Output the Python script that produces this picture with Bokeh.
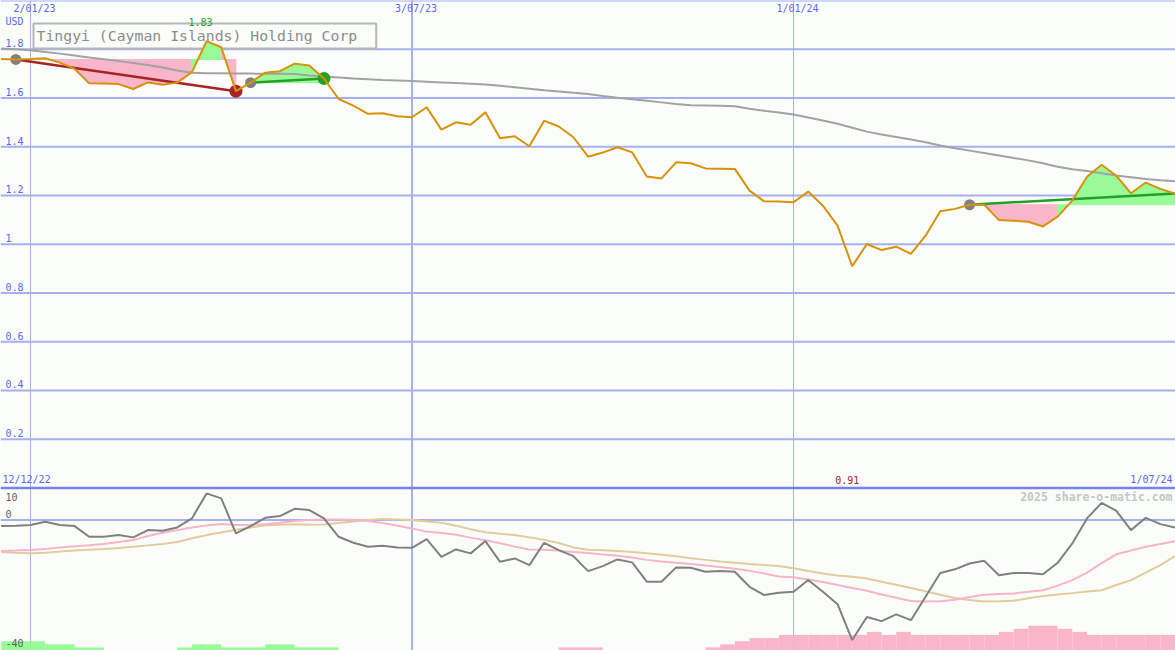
import numpy as np
import pandas as pd
from bokeh.plotting import figure
from bokeh.models import Range1d, Span, Label
from bokeh.embed import file_html
from bokeh.resources import INLINE

# ---------------- data ----------------
title_text = "Tingyi (Cayman Islands) Holding Corp"
currency = "USD"
watermark = "2025 share-o-matic.com"
dates = pd.date_range("2022-12-19", periods=81, freq="7D")

price = [1.760, 1.758, 1.760, 1.763, 1.745, 1.720, 1.660, 1.659, 1.657, 1.637,
         1.664, 1.654, 1.663, 1.706, 1.833, 1.808, 1.628, 1.663, 1.704, 1.710,
         1.741, 1.733, 1.680, 1.596, 1.569, 1.535, 1.537, 1.525, 1.521, 1.562,
         1.470, 1.500, 1.490, 1.541, 1.435, 1.443, 1.402, 1.507, 1.483, 1.439,
         1.359, 1.376, 1.398, 1.377, 1.278, 1.270, 1.336, 1.332, 1.311, 1.310,
         1.309, 1.220, 1.176, 1.175, 1.172, 1.216, 1.158, 1.076, 0.910, 1.001,
         0.976, 0.990, 0.960, 1.035, 1.135, 1.145, 1.162, 1.162, 1.099, 1.096,
         1.092, 1.073, 1.113, 1.179, 1.277, 1.326, 1.281, 1.209, 1.253, 1.227,
         1.208]

price_ma = [1.803, 1.800, 1.796, 1.789, 1.782, 1.774, 1.766, 1.759, 1.752, 1.744,
            1.735, 1.725, 1.713, 1.704, 1.702, 1.701, 1.700, 1.700, 1.699, 1.699,
            1.698, 1.692, 1.688, 1.684, 1.680, 1.677, 1.674, 1.672, 1.670, 1.667,
            1.664, 1.661, 1.658, 1.655, 1.650, 1.644, 1.638, 1.632, 1.627, 1.621,
            1.616, 1.608, 1.601, 1.595, 1.589, 1.582, 1.575, 1.570, 1.569, 1.568,
            1.566, 1.556, 1.548, 1.540, 1.532, 1.520, 1.508, 1.494, 1.478, 1.462,
            1.450, 1.440, 1.430, 1.418, 1.405, 1.394, 1.384, 1.374, 1.364, 1.354,
            1.344, 1.332, 1.318, 1.308, 1.300, 1.291, 1.282, 1.275, 1.268, 1.262,
            1.258]

osc = [-1.84, -1.7, -1.53, -0.52, -1.53, -1.84, -5.12, -5.12, -4.6, -5.3,
       -3.07, -3.28, -2.24, 0.52, 8.19, 6.66, -4.08, -1.84, 0.7, 1.23,
       3.47, 3.07, 0.52, -5.12, -6.96, -8.19, -7.9, -8.4, -8.5, -5.83,
       -11.26, -8.99, -10.2, -6.44, -12.8, -11.75, -13.8, -6.96, -9.2, -11.04,
       -15.64, -14.1, -12.06, -12.97, -18.9, -18.9, -14.5, -14.6, -15.86, -15.64,
       -15.86, -20.46, -23.0, -22.3, -22.0, -18.4, -22.0, -25.8, -36.8, -29.7,
       -31.0, -28.9, -30.7, -23.5, -16.2, -15.1, -13.3, -12.5, -16.9, -16.2,
       -16.2, -16.6, -13.1, -7.15, 0.52, 5.3, 2.85, -3.07, 0.7, -1.23,
       -2.24]

osc_fast = [-9.5, -9.36, -9.2, -8.9, -8.4, -8.0, -7.7, -7.36, -6.75, -6.13,
            -4.9, -3.9, -3.07, -2.3, -1.66, -1.23, -1.47, -1.4, -1.25, -0.8,
            -0.3, 0.03, 0.2, 0.2, 0.1, -0.3, -0.9, -1.75, -2.55, -3.53,
            -3.95, -4.5, -5.37, -6.2, -7.1, -8.13, -9.0, -9.1, -9.36, -9.8,
            -10.1, -10.55, -10.95, -11.5, -12.2, -12.7, -13.1, -13.5, -13.9, -14.4,
            -14.9, -15.5, -16.4, -17.3, -17.5, -18.2, -19.0, -19.9, -20.8, -21.7,
            -22.8, -23.8, -24.8, -25.0, -24.9, -24.4, -23.6, -22.9, -22.7, -22.5,
            -22.0, -21.5, -20.1, -18.4, -16.1, -13.2, -10.5, -9.3, -8.2, -7.3,
            -6.5]

osc_slow = [-9.8, -10.0, -10.15, -10.0, -9.6, -9.3, -9.1, -8.9, -8.55, -8.2,
            -7.75, -7.3, -6.7, -5.55, -4.6, -3.8, -2.95, -2.3, -1.6, -1.4,
            -1.28, -1.44, -1.35, -0.9, -0.43, 0.0, 0.37, 0.2, 0.0, -0.4,
            -0.8, -1.7, -2.8, -3.7, -4.2, -4.6, -5.3, -6.0, -7.0, -8.37,
            -9.08, -9.26, -9.5, -9.8, -10.2, -10.6, -11.1, -11.7, -12.2, -12.7,
            -13.1, -13.5, -13.8, -14.1, -14.75, -15.6, -16.4, -17.0, -17.4, -17.9,
            -18.9, -19.8, -20.8, -21.8, -22.9, -23.9, -24.5, -25.0, -24.9, -24.75,
            -24.0, -23.3, -22.8, -22.4, -21.9, -21.5, -19.9, -18.4, -16.1, -13.8,
            -11.04]

bar_level = [3, 3, 3, 2, 2, 1, 1, 0, 0, 0,
             0, 0, 1, 2, 2, 1, 1, 1, 2, 2,
             1, 1, 1, 0, 0, 0, 0, 0, 0, 0,
             0, 0, 0, 0, 0, 0, 0, 0, -1, -1,
             -1, 0, 0, 0, 0, 0, 0, 0, -1, -2,
             -3, -4, -4, -5, -5, -5, -5, -5, -5, -6,
             -5, -6, -5, -5, -5, -5, -5, -5, -6, -7,
             -8, -8, -7, -6, -5, -5, -5, -5, -5, -5,
             -5]

trend_start = [1, 17, 66]
trend_end = [16, 22, 80]

price_ticks = [1.8, 1.6, 1.4, 1.2, 1.0, 0.8, 0.6, 0.4, 0.2]
osc_ticks = [10, 0, -40]
date_ticks = ["2023-01-02", "2023-07-03", "2024-01-01"]
date_tick_labels = ["2/01/23", "3/07/23", "1/01/24"]
range_start_label = "12/12/22"
range_end_label = "1/07/24"

# ---------------- styles ----------------
BG = "#FBFDFB"
GRID = "#A6B0F0"
SEP = "#7484E8"
TICK_BLUE = "#5868EE"
PRICE_C = "#D8920A"
MA_C = "#A2A2A2"
RED = "#A82424"
GREEN = "#24A024"
DOT_GREY = "#808080"
PINK_FILL = "#F9B6CB"
GREEN_FILL = "#98FB98"
OSC_C = "#808080"
OSC_FAST_C = "#F8B4C8"
OSC_SLOW_C = "#E2CC9C"
MONO = "DejaVu Sans Mono"

W, H = 1175, 650
DAY = 86400000.0
EPOCH = pd.Timestamp("1970-01-01")


def ms(ts):
    return (pd.Timestamp(ts) - EPOCH) / pd.Timedelta(milliseconds=1)


x = np.array([ms(d) for d in dates])
pr = np.array(price)
n = len(pr)
x_start = x[0] - 0.31 * DAY
x_end = x_start + 560.53 * DAY

p = figure(width=W, height=H, output_backend="svg", toolbar_location=None,
           x_range=Range1d(x_start, x_end), y_range=Range1d(-0.667, 2.0),
           x_axis_location=None, y_axis_location=None,
           background_fill_color=BG, border_fill_color=BG,
           outline_line_color=None, min_border=0)
p.extra_y_ranges = {"osc": Range1d(-40, 159.4), "bars": Range1d(0, 209.7)}
p.xgrid.visible = False
p.ygrid.visible = False

# grid lines
for t in price_ticks:
    p.add_layout(Span(location=t, dimension="width", line_color=GRID,
                      line_width=2, level="underlay"))
p.add_layout(Span(location=2.0, dimension="width", line_color=GRID,
                  line_width=2, level="underlay"))
for i, d in enumerate(date_ticks):
    p.add_layout(Span(location=ms(d), dimension="height", line_color=GRID,
                      line_width=2 if i == 1 else 1, level="underlay"))
p.add_layout(Span(location=0, dimension="width", line_color=SEP,
                  line_width=2.5, level="underlay"))
p.add_layout(Span(location=0, dimension="width", y_range_name="osc",
                  line_color=GRID, line_width=2, level="underlay"))


def lab(text, xv, yv, color, size="10px", align="left", xo=0, yo=0,
        xu="data", yr="default", bold=False, **kw):
    p.add_layout(Label(x=xv, y=yv, text=text, x_units=xu, y_range_name=yr,
                       x_offset=xo, y_offset=yo, text_align=align,
                       text_baseline="middle", text_color=color,
                       text_font=MONO, text_font_size=size,
                       text_font_style="bold" if bold else "normal", **kw))


# title box sits behind the data
lab(title_text, 33, 2.0, "#8C8C8C", size="14.8px", xu="screen", yo=-35.5,
    background_fill_color=BG, border_line_color="#B6B6B6",
    border_line_width=2, padding=(3, 19, 3, 5), level="underlay")

# ---------------- lower panel ----------------
lev = np.array(bar_level)
nz = lev != 0
p.quad(left=x[nz], right=x[nz] + 7 * DAY, bottom=0, top=np.abs(lev[nz]),
       fill_color=[GREEN_FILL if v > 0 else PINK_FILL for v in lev[nz]],
       line_color=None, y_range_name="bars")
p.line(x, osc_slow, line_color=OSC_SLOW_C, line_width=2, y_range_name="osc")
p.line(x, osc_fast, line_color=OSC_FAST_C, line_width=2, y_range_name="osc")
p.line(x, osc, line_color=OSC_C, line_width=2, y_range_name="osc")

# ---------------- upper panel ----------------
fill_xs, fill_ys, fill_c = [], [], []
for s, e in zip(trend_start, trend_end):
    lvl = pr[s]
    for k in range(s, e):
        fill_xs.append([x[k], x[k], x[k + 1], x[k + 1]])
        fill_ys.append([lvl, pr[k], pr[k + 1], lvl])
        fill_c.append(GREEN_FILL if pr[k + 1] > lvl else PINK_FILL)
p.patches(fill_xs, fill_ys, fill_color=fill_c, line_color=fill_c, line_width=1)

p.line(x, price_ma, line_color=MA_C, line_width=2)

ts = np.array(trend_start)
te = np.array(trend_end)
tcol = [GREEN if pr[e] > pr[s] else RED for s, e in zip(ts, te)]
p.segment(x0=x[ts], y0=pr[ts], x1=x[te], y1=pr[te], line_color=tcol, line_width=2.5)
p.scatter(x[ts], pr[ts], size=11, fill_color=DOT_GREY, line_color=None)
closed = te < n - 1
p.scatter(x[te][closed], pr[te][closed], size=13,
          fill_color=[c for c, k in zip(tcol, closed) if k], line_color=None)

p.line(x, pr, line_color=PRICE_C, line_width=2)

# ---------------- texts ----------------
for d, t in zip(date_ticks, date_tick_labels):
    lab(t, ms(d), 2.0, TICK_BLUE, align="center", xo=4, yo=-8)
lab(currency, 5, 2.0, TICK_BLUE, xu="screen", yo=-21)
for t in price_ticks:
    lab(f"{t:g}", 5, t, TICK_BLUE, xu="screen", yo=6)

imax = int(np.argmax(pr))
imin = int(np.argmin(pr))
lab(f"{pr[imax]:.2f}", x[imax], pr[imax], GREEN, align="center", xo=-6, yo=19.5)
lab(f"{pr[imin]:.2f}", x[imin], 0.0, RED, align="center", xo=-5, yo=8)

lab(range_start_label, 2, 0.0, TICK_BLUE, xu="screen", yo=8)
lab(range_end_label, x_end, 0.0, TICK_BLUE, align="right", xo=-3, yo=8)

osc_off = {10: -9, 0: 6.5, -40: 8}
for t in osc_ticks:
    lab(f"{t}", 5, t, "#606060", xu="screen", yr="osc", yo=osc_off[t])
lab(watermark, x_end, 10, "#C6C6C6", size="11.5px", align="right", xo=-3,
    yo=-9, yr="osc", bold=True)

open("out.html", "w").write(file_html(p, INLINE))
